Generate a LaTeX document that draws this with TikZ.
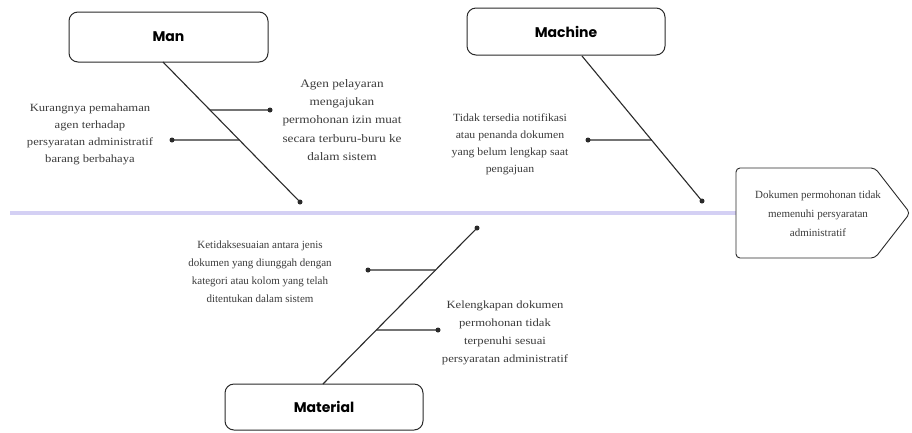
\documentclass[tikz,border=0pt]{standalone}
\usepackage{fontspec}
\setmainfont{Liberation Serif}
\newfontfamily\bodyA{Liberation Serif}
\newfontfamily\bodyB[FakeStretch=1.07]{Liberation Serif}
\newfontfamily\bodyC[FakeStretch=1.15]{Liberation Serif}
\newfontfamily\labelfont{Poppins}
\usetikzlibrary{calc}
\definecolor{spinecol}{HTML}{D4D0F4}
\definecolor{inkcol}{HTML}{2A2A2A}
\definecolor{txtcol}{HTML}{3C3C3C}
\begin{document}
\begin{tikzpicture}[x=1pt,y=-1pt,
  catbox/.style={draw=inkcol, line width=1pt, rounded corners=9pt, fill=white,
    font=\labelfont\bfseries\fontsize{14}{16}\selectfont, text=black},
  causetext/.style={text=txtcol, align=center, inner sep=0pt},
  bone/.style={draw=inkcol, line width=1.1pt},
  spine/.style={draw=spinecol, line width=3.5pt},
  dotend/.style={circle, fill=inkcol, inner sep=0pt, minimum size=5pt},
  effshape/.style={draw=inkcol, line width=0.9pt, rounded corners=4pt}
]
\useasboundingbox (0,0) rectangle (912,432);
\fill[white] (0,0) rectangle (912,432);

% spine
\coordinate (spineL) at (10,213);
\coordinate (effW) at (736,213);
\draw[spine] (spineL) -- (effW);

% effect
\draw[effshape] (736,168) -- (875,168) -- (910,213) -- (875,258) -- (736,258) -- cycle;
\node[causetext, font=\bodyA\fontsize{11}{19}\selectfont] (effect) at (818,214) {Dokumen permohonan tidak\\memenuhi persyaratan\\administratif};

% Man
\node[catbox, minimum width=199pt, minimum height=50pt] (man) at (168.5,37) {Man};
\coordinate (manTop) at (163,62);
\node[dotend] (manEnd) at (300,202) {};
\draw[bone] (manTop) -- (manEnd.center);
\coordinate (manJ1) at ($(manTop)!0.3429!(manEnd.center)$);
\coordinate (manJ2) at ($(manTop)!0.5571!(manEnd.center)$);
\node[dotend] (manD1) at (270,110) {};
\node[dotend] (manD2) at (172,140) {};
\draw[bone] (manJ1) -- (manD1.center);
\draw[bone] (manJ2) -- (manD2.center);
\node[causetext, font=\bodyC\fontsize{11.5}{18.3}\selectfont] (manC1) at (342,120) {Agen pelayaran\\mengajukan\\permohonan izin muat\\secara terburu-buru ke\\dalam sistem};
\node[causetext, font=\bodyC\fontsize{11}{17}\selectfont] (manC2) at (90,134) {Kurangnya pemahaman\\agen terhadap\\persyaratan administratif\\barang berbahaya};

% Machine
\node[catbox, minimum width=198pt, minimum height=47pt] (machine) at (566,31.5) {Machine};
\coordinate (macTop) at (582,56);
\node[dotend] (macEnd) at (702,201) {};
\draw[bone] (macTop) -- (macEnd.center);
\coordinate (macJ1) at ($(macTop)!0.5793!(macEnd.center)$);
\node[dotend] (macD1) at (588,140) {};
\draw[bone] (macJ1) -- (macD1.center);
\node[causetext, font=\bodyB\fontsize{11}{17}\selectfont] (macC1) at (510,144) {Tidak tersedia notifikasi\\atau penanda dokumen\\yang belum lengkap saat\\pengajuan};

% Material
\node[catbox, minimum width=198pt, minimum height=46pt] (material) at (324,407) {Material};
\coordinate (matBot) at (323,384);
\node[dotend] (matEnd) at (477,228) {};
\draw[bone] (matBot) -- (matEnd.center);
\coordinate (matJ1) at ($(matBot)!0.7308!(matEnd.center)$);
\coordinate (matJ2) at ($(matBot)!0.3462!(matEnd.center)$);
\node[dotend] (matD1) at (368,270) {};
\node[dotend] (matD2) at (438,330) {};
\draw[bone] (matJ1) -- (matD1.center);
\draw[bone] (matJ2) -- (matD2.center);
\node[causetext, font=\bodyA\fontsize{11}{18}\selectfont] (matC1) at (260,272) {Ketidaksesuaian antara jenis\\dokumen yang diunggah dengan\\kategori atau kolom yang telah\\ditentukan dalam sistem};
\node[causetext, font=\bodyC\fontsize{11}{18}\selectfont] (matC2) at (505,333) {Kelengkapan dokumen\\permohonan tidak\\terpenuhi sesuai\\persyaratan administratif};
\end{tikzpicture}
\end{document}
